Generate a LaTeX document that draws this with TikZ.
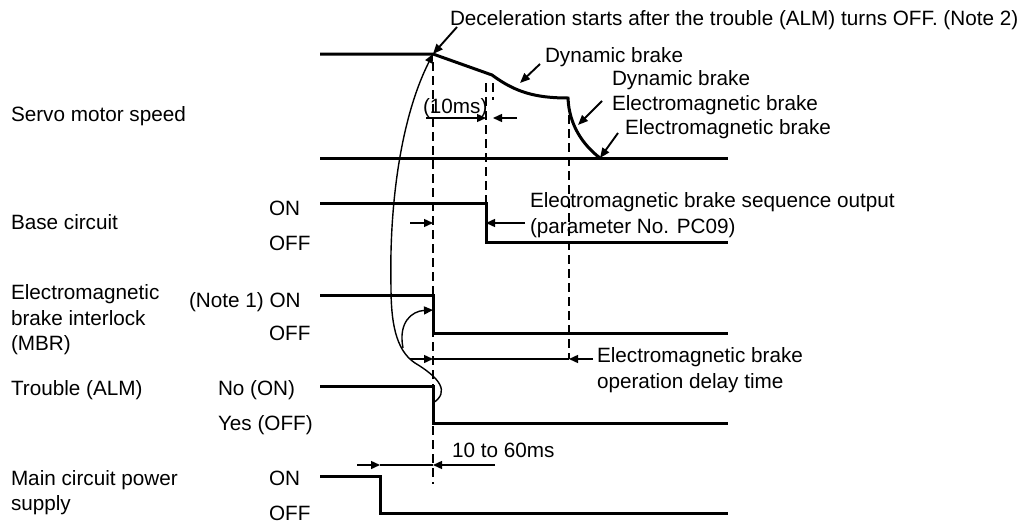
\documentclass[tikz,border=0pt]{standalone}
\usepackage{fontspec}
\setmainfont{Liberation Sans}
\usetikzlibrary{arrows.meta}
\begin{document}
\begin{tikzpicture}[x=1pt,y=-1pt,
  lbl/.style={anchor=base west,inner sep=0pt,outer sep=0pt,font=\fontsize{20.7}{25.5}\selectfont,align=left},
  sig/.style={line width=3pt,line join=miter},
  dim/.style={line width=1.4pt},
  tip/.style={-{Triangle[length=9pt,width=8pt]}},
  guide/.style={line width=1.7pt,dash pattern=on 9pt off 5pt},
  ann/.style={line width=1.9pt,-{Triangle[length=10pt,width=8pt]}},
]
\useasboundingbox (0,0) rectangle (1026,525);

% ---------- left labels (base = last line) ----------
\node[lbl] (lServo) at (11,121.5) {Servo motor speed};
\node[lbl] (lBase) at (11,229.5) {Base circuit};
\node[lbl] (lMBR) at (11,350.5) {Electromagnetic\\brake interlock\\(MBR)};
\node[lbl] (lALM) at (11,395.5) {Trouble (ALM)};
\node[lbl] (lMain) at (11,510.5) {Main circuit power\\supply};

\node[lbl] (bOn) at (269,215.5) {ON};
\node[lbl] (bOff) at (269,250.5) {OFF};
\node[lbl] (mOn) at (189,307.5) {(Note 1) ON};
\node[lbl] (mOff) at (269,340.5) {OFF};
\node[lbl] (aOn) at (218,395.5) {No (ON)};
\node[lbl] (aOff) at (218,430.5) {Yes (OFF)};
\node[lbl] (pOn) at (269,485.5) {ON};
\node[lbl] (pOff) at (269,520.5) {OFF};

% ---------- key points ----------
\coordinate (t0) at (433,54);    % deceleration start
\coordinate (t1) at (492,75);
\coordinate (t2) at (568,98);
\coordinate (t3) at (600,158);

% ---------- waveforms ----------
\draw[sig] (320,54) -- (t0) -- (t1) .. controls (515,92) and (535,98) .. (t2)
           .. controls (569,125) and (583,145) .. (t3);
\draw[sig] (320,158) -- (728,158);
\draw[sig] (320,203) -- (486,203) -- (486,242) -- (728,242);
\draw[sig] (320,295) -- (433,295) -- (433,333) -- (728,333);
\draw[sig] (320,386) -- (433,386) -- (433,423) -- (728,423);
\draw[sig] (320,476) -- (380,476) -- (380,513) -- (728,513);

% ---------- dashed guides ----------
\draw[guide] (433,62) -- (433,484);
\draw[guide] (486,83) -- (486,203);
\draw[guide] (493,83) -- (493,100);
\draw[guide] (569,101) -- (569,359);

% ---------- curves from ALM ----------
\coordinate (alm) at (433,403);
\coordinate (mbr) at (433,310);
\coordinate (split) at (403,348);
\draw[dim,tip] (alm) .. controls (450,392) and (440,378) .. (415,363)
   .. controls (395,350) and (391,320) .. (391,287)
   .. controls (389,200) and (402,115) .. (t0);
\draw[dim,tip] (split) .. controls (398,322) and (412,311) .. (mbr);

% ---------- annotations ----------
\node[lbl] (note2) at (450,25) {Deceleration starts after the trouble (ALM) turns OFF. (Note 2)};
\draw[ann] (457,27) -- (t0);

\node[lbl] (dyn) at (545,62) {Dynamic brake};
\coordinate (dynP) at (520,83);
\draw[ann] (540,64) -- (dynP);

\node[lbl] (dynem) at (612,110.5) {Dynamic brake\\Electromagnetic brake};
\coordinate (dynemP) at (578,125);
\draw[ann] (602,101) -- (dynemP);

\node[lbl] (em) at (625,134) {Electromagnetic brake};
\draw[ann] (618,133) -- (t3);

\node[lbl] (ten) at (423,113) {(10ms)};
\draw[dim,tip] (426,118) -- (486,118);
\draw[dim,tip] (517,118) -- (493,118);

\node[lbl] (seq) at (530,233) {Electromagnetic brake sequence output\\(parameter No. PC09)};
\draw[dim,tip] (410,223) -- (433,223);
\draw[dim,tip] (525,223) -- (486,223);

\node[lbl] (delay) at (597,388) {Electromagnetic brake\\operation delay time};
\draw[dim,tip] (410,359) -- (433,359);
\draw[dim] (433,359) -- (569,359);
\draw[dim,tip] (593,359) -- (569,359);

\node[lbl] (ms) at (452,457.5) {10 to 60ms};
\draw[dim,tip] (357,465) -- (380,465);
\draw[dim] (380,465) -- (433,465);
\draw[dim,tip] (495,465) -- (433,465);
\end{tikzpicture}
\end{document}
